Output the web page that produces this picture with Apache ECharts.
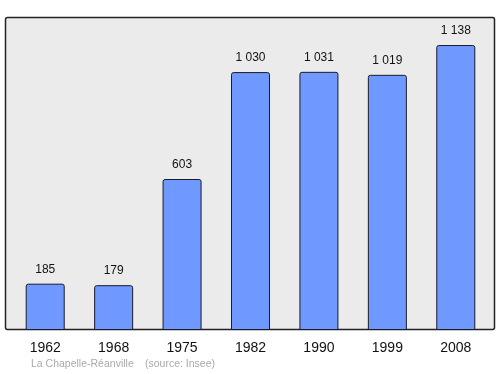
<!DOCTYPE html>
<html><head><meta charset="utf-8">
<script src="https://cdn.jsdelivr.net/npm/echarts@6/dist/echarts.min.js"></script>
<style>html,body{margin:0;padding:0;background:#fff}#c{width:500px;height:374px}</style>
</head><body><div id="c"></div>
<script>
const years = ['1962','1968','1975','1982','1990','1999','2008'];
const population = [185, 179, 603, 1030, 1031, 1019, 1138];
const footerPlace = 'La Chapelle-Réanville';
const footerSource = '(source: Insee)';

function fmt(v){ return String(v).replace(/\B(?=(\d{3})+(?!\d))/g, ' '); }

const chart = echarts.init(document.getElementById('c'), null, {renderer:'canvas'});
chart.setOption({
  animation:false,
  graphic:[
    {type:'rect', z:-10, shape:{x:5.5,y:17.5,width:489,height:312,r:2},
     style:{fill:'#ebebeb', stroke:'#222', lineWidth:1.5}},
    {type:'text', left:31, top:359, style:{text:footerPlace, fill:'#aaaaaa', font:'10.5px "Liberation Sans", Arial, sans-serif'}},
    {type:'text', left:145, top:359, style:{text:footerSource, fill:'#aaaaaa', font:'10.5px "Liberation Sans", Arial, sans-serif'}}
  ],
  grid:{left:11, right:10, top:17, bottom:44},
  xAxis:{type:'category', data:years, boundaryGap:true,
    axisLine:{show:false}, axisTick:{show:false},
    axisLabel:{color:'#111', fontSize:14, margin:11, fontFamily:'"Liberation Sans", Arial, sans-serif'}},
  yAxis:{type:'value', min:0, max:1250, show:false, splitLine:{show:false}},
  series:[{type:'bar', data:population, barWidth:39,
    itemStyle:{color:'#6f99fe', borderColor:'#1a1a2a', borderWidth:1, borderRadius:[2,2,0,0]},
    label:{show:true, position:'top', distance:8, color:'#111', fontSize:12,
      fontFamily:'"Liberation Sans", Arial, sans-serif', formatter:p=>fmt(p.value)}}]
});
</script></body></html>
